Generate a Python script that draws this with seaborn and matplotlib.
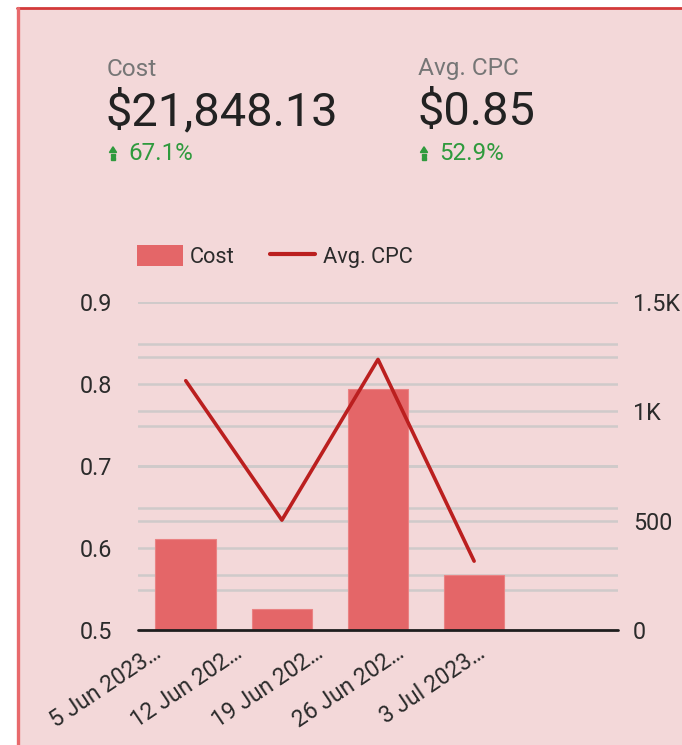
import numpy as np
import pandas as pd
import matplotlib
matplotlib.use("Agg")
import matplotlib.pyplot as plt
import matplotlib.transforms as mtransforms
from matplotlib.patches import Rectangle, Polygon, Patch
from matplotlib.lines import Line2D
import seaborn as sns

# ---- data ----
weeks = ["5 Jun 2023", "12 Jun 2023", "19 Jun 2023", "26 Jun 2023", "3 Jul 2023"]
week_labels = ["5 Jun 2023…", "12 Jun 202…", "19 Jun 202…", "26 Jun 202…", "3 Jul 2023…"]
cost = [416, 96, 1102, 252]          # weekly cost, last week has no data
avg_cpc = [0.804, 0.634, 0.830, 0.584]
cost_ticks = [0, 500, 1000, 1500]
cost_tick_labels = ["0", "500", "1K", "1.5K"]
cpc_ticks = [0.5, 0.6, 0.7, 0.8, 0.9]
cpc_tick_labels = ["0.5", "0.6", "0.7", "0.8", "0.9"]
cpc_midlines = [0.5485, 0.6485, 0.7485, 0.8485]

kpi_titles = ["Cost", "Avg. CPC"]
kpi_values = ["$21,848.13", "$0.85"]
kpi_deltas = ["67.1%", "52.9%"]

# ---- style ----
BG = "#f3d8d9"
BAR = "#e46668"
LINE = "#bb1f1f"
GRID = "#cfcaca"
TXT = "#2b2b2b"
GREEN = "#2f9a3d"
TICK_FS = 16.8

sns.set_theme(style="white")
plt.rcParams["font.family"] = ["Roboto", "DejaVu Sans"]

W, H = 682, 745
fig = plt.figure(figsize=(W / 100, H / 100), dpi=100)
fig.patch.set_facecolor("white")


def fx(px):
    return px / W


def fy(py):
    return 1 - py / H


# card background with red top/left edges
fig.patches.append(Rectangle((fx(18), 0), 1, fy(8), transform=fig.transFigure,
                             facecolor=BG, edgecolor="none", zorder=-5))
fig.add_artist(Line2D([fx(17), 1], [fy(8), fy(8)], transform=fig.transFigure,
                      color="#d33a3a", lw=2.0, zorder=-4))
fig.add_artist(Line2D([fx(18.3), fx(18.3)], [0, fy(8)], transform=fig.transFigure,
                      color="#e86a6c", lw=2.4, zorder=-4))

# ---- KPI header ----
for i, (t, v, d) in enumerate(zip(kpi_titles, kpi_values, kpi_deltas)):
    x0 = [107, 418][i]
    fig.text(fx(x0), fy(75.5), t, fontsize=17.6, color="#767676", va="baseline")
    fig.text(fx(x0 - 1), fy(125), v, fontsize=33.8, color="#222222", va="baseline")
    fig.text(fx(x0 + 21), fy(159.5), d, fontsize=17.4, color=GREEN, va="baseline")
    # up-arrow icon
    cx = x0 + 6
    fig.patches.append(Polygon([(fx(cx - 3.6), fy(152.5)), (fx(cx + 3.6), fy(152.5)),
                                (fx(cx), fy(146.8))], closed=True,
                               transform=fig.transFigure, color=GREEN))
    for y0, y1 in [(153.6, 155.6), (156.8, 159.6)]:
        fig.patches.append(Rectangle((fx(cx - 2.4), fy(y1)), fx(4.8), y1 / H - y0 / H,
                                     transform=fig.transFigure, color=GREEN))

# ---- chart ----
ax = fig.add_axes([fx(137.7), fy(630), fx(618.3) - fx(137.7), fy(302) - fy(630)])
ax.set_facecolor("none")
df = pd.DataFrame({"week": weeks[:len(cost)], "cost": cost})
sns.barplot(data=df, x="week", y="cost", order=weeks, color=BAR, width=0.63,
            saturation=1, edgecolor="#ea8283", linewidth=0.8, ax=ax, zorder=2)
ax.set_ylim(0, 1500)
ax.set_xlim(-0.5, len(weeks) - 0.5)

ax2 = ax.twinx()
ax2.set_ylim(0.5, 0.9)
sns.lineplot(x=np.arange(len(avg_cpc)), y=avg_cpc, color=LINE, linewidth=2.6,
             ax=ax2, zorder=3)
ax2.set_xlim(-0.5, len(weeks) - 0.5)

# gridlines behind the bars
for v in np.arange(250, 1501, 250):
    ax.axhline(v, color=GRID, lw=1.8, zorder=0)
cpc_tr = mtransforms.blended_transform_factory(ax.transAxes, ax2.transData)
for v in cpc_ticks[1:] + cpc_midlines:
    ax.plot([0, 1], [v, v], transform=cpc_tr, color=GRID, lw=1.8, zorder=0)
ax.axhline(0, color="#1e1e1e", lw=2.0, zorder=4, clip_on=False)

# axes: cost on right, CPC on left
ax.yaxis.tick_right()
ax.set_yticks(cost_ticks, cost_tick_labels)
ax2.yaxis.tick_left()
ax2.set_yticks(cpc_ticks, cpc_tick_labels)
ax.tick_params(axis="y", length=0, pad=10.5, labelsize=TICK_FS, labelcolor=TXT)
ax2.tick_params(axis="y", length=0, pad=18.5, labelsize=TICK_FS, labelcolor=TXT)
ax.set_xticks([])
ax.set_xlabel("")
ax.set_ylabel("")
ax2.set_ylabel("")
ax2.set_xlabel("")
for a in (ax, ax2):
    for s in a.spines.values():
        s.set_visible(False)

# rotated week labels
for i, lab in enumerate(week_labels):
    ax.text((163 + 80.8 * i - 137.7) / 480.6, (630 - 656) / 328, lab,
            transform=ax.transAxes, rotation=34, rotation_mode="anchor",
            ha="right", va="baseline", fontsize=16.5, color=TXT)

# legend
handles = [Patch(facecolor=BAR, edgecolor="none", label="Cost"),
           Line2D([], [], color=LINE, lw=3, label="Avg. CPC")]
fig.legend(handles=handles, loc="upper left", bbox_to_anchor=(fx(137), fy(245.5)),
           ncol=2, frameon=False, fontsize=15.7, labelcolor=TXT,
           handlelength=2.1, handleheight=1.07, handletextpad=0.33,
           columnspacing=1.6, borderaxespad=0, borderpad=0)

fig.savefig("out.png", dpi=100, facecolor=fig.get_facecolor())
